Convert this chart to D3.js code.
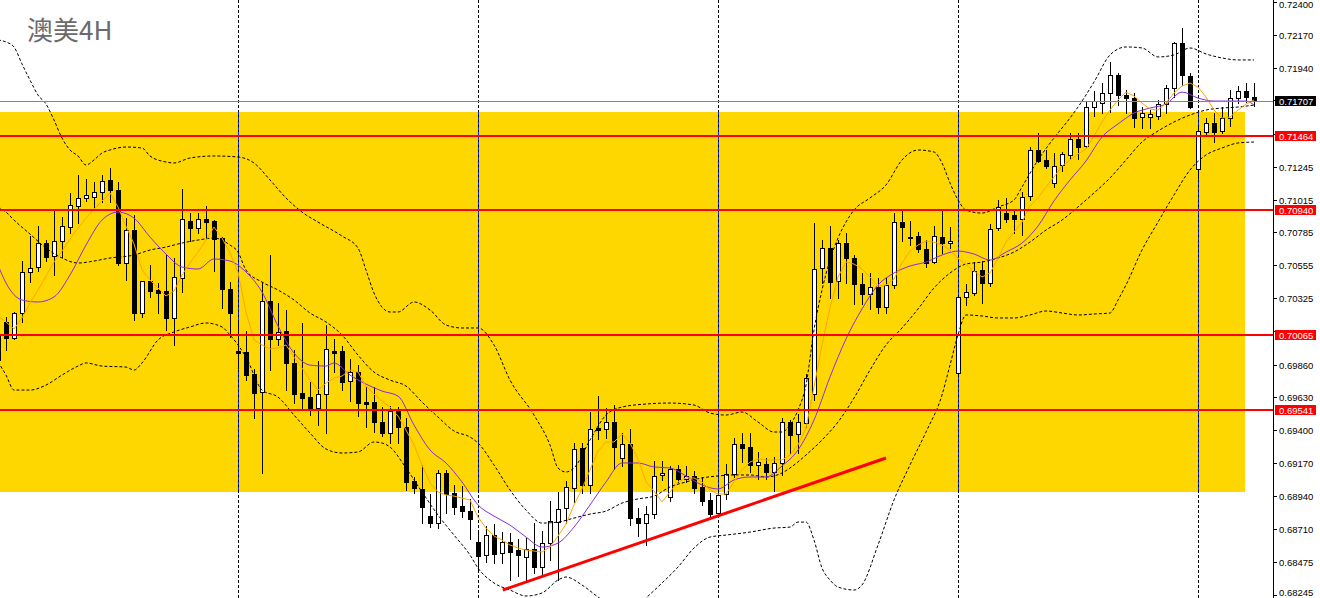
<!DOCTYPE html>
<html><head><meta charset="utf-8">
<script src="https://cdn.jsdelivr.net/npm/d3@7"></script>
<style>html,body{margin:0;padding:0;background:#fff;overflow:hidden}</style>
</head><body>
<svg id="c" width="1320" height="598"></svg>
<script>
// ---- candle data (AUD/USD 4H); first entry is the partly visible bar at index -1 ----
const firstIndex=-1;
const opens=[0.70067,0.70158,0.70046,0.70221,0.70508,0.70543,0.70711,0.70620,0.70725,0.70823,0.70971,0.71027,0.71034,0.71069,0.71153,0.71083,0.70571,0.70802,0.70221,0.70445,0.70382,0.70375,0.70186,0.70466,0.70865,0.70816,0.70879,0.70865,0.70746,0.70389,0.69955,0.69948,0.69793,0.69667,0.70305,0.70039,0.70095,0.69871,0.69660,0.69632,0.69555,0.69653,0.69955,0.69955,0.69744,0.69807,0.69597,0.69597,0.69457,0.69380,0.69534,0.69422,0.69044,0.68988,0.68798,0.68749,0.69100,0.68960,0.68869,0.68833,0.68616,0.68525,0.68665,0.68539,0.68616,0.68560,0.68511,0.68567,0.68441,0.68609,0.68756,0.68854,0.68995,0.69275,0.69016,0.69415,0.69408,0.69457,0.69205,0.69303,0.68784,0.68749,0.68812,0.69086,0.68932,0.69128,0.69058,0.69079,0.69002,0.68911,0.68819,0.68953,0.69093,0.69303,0.69282,0.69156,0.69163,0.69107,0.69170,0.69457,0.69373,0.69450,0.69653,0.70536,0.70676,0.70445,0.70711,0.70606,0.70424,0.70354,0.70403,0.70263,0.70417,0.70858,0.70753,0.70760,0.70669,0.70578,0.70753,0.70711,0.69800,0.70333,0.70361,0.70522,0.70431,0.70816,0.70921,0.70907,0.70879,0.71041,0.71363,0.71293,0.71132,0.71258,0.71328,0.71440,0.71391,0.71664,0.71692,0.71762,0.71888,0.71748,0.71727,0.71594,0.71594,0.71601,0.71685,0.71797,0.72113,0.71881,0.71230,0.71489,0.71552,0.71496,0.71587,0.71727,0.71776,0.71734];
const highs=[0.70158,0.70193,0.70228,0.70585,0.70760,0.70830,0.70732,0.70935,0.70893,0.71062,0.71188,0.71160,0.71139,0.71188,0.71237,0.71139,0.70886,0.70907,0.70445,0.70557,0.70431,0.70634,0.70606,0.71090,0.70921,0.70921,0.70971,0.70872,0.70753,0.70438,0.70158,0.70095,0.69828,0.70438,0.70627,0.70291,0.70242,0.69962,0.70151,0.69737,0.69885,0.70137,0.70039,0.69990,0.69899,0.69856,0.69702,0.69702,0.69562,0.69569,0.69562,0.69485,0.69072,0.69156,0.68953,0.69121,0.69121,0.69016,0.69009,0.68918,0.68679,0.68728,0.68742,0.68686,0.68679,0.68637,0.68644,0.68749,0.68693,0.68904,0.68967,0.69044,0.69310,0.69310,0.69527,0.69639,0.69555,0.69576,0.69380,0.69408,0.68854,0.68869,0.69184,0.69184,0.69149,0.69156,0.69149,0.69114,0.69072,0.68960,0.68960,0.69163,0.69345,0.69380,0.69380,0.69247,0.69205,0.69212,0.69485,0.69471,0.69513,0.69793,0.70851,0.70732,0.70830,0.70732,0.70781,0.70627,0.70501,0.70501,0.70466,0.70466,0.70921,0.70935,0.70865,0.70788,0.70732,0.70830,0.70942,0.70823,0.70347,0.70424,0.70578,0.70585,0.70844,0.71013,0.71027,0.70942,0.71069,0.71384,0.71482,0.71363,0.71342,0.71349,0.71482,0.71482,0.71699,0.71776,0.71832,0.71980,0.71902,0.71783,0.71762,0.71664,0.71643,0.71713,0.71818,0.72120,0.72218,0.71902,0.71524,0.71587,0.71622,0.71664,0.71783,0.71811,0.71832,0.71832];
const lows=[0.69856,0.69962,0.70039,0.70158,0.70438,0.70515,0.70585,0.70487,0.70613,0.70781,0.70851,0.71006,0.70956,0.70999,0.70999,0.70557,0.70452,0.70172,0.70193,0.70333,0.70221,0.70102,0.69997,0.70368,0.70725,0.70781,0.70739,0.70515,0.70256,0.70053,0.69835,0.69751,0.69485,0.69100,0.69821,0.69997,0.69681,0.69590,0.69548,0.69506,0.69436,0.69380,0.69807,0.69681,0.69604,0.69499,0.69422,0.69387,0.69359,0.69310,0.69310,0.68981,0.68960,0.68749,0.68721,0.68714,0.68819,0.68812,0.68791,0.68637,0.68427,0.68476,0.68469,0.68469,0.68350,0.68378,0.68350,0.68399,0.68385,0.68490,0.68350,0.68749,0.68897,0.68960,0.68960,0.69338,0.69345,0.69128,0.69149,0.68735,0.68658,0.68595,0.68784,0.69051,0.68904,0.69037,0.69037,0.68960,0.68876,0.68798,0.68791,0.68918,0.69072,0.69177,0.69107,0.69058,0.69058,0.68974,0.69086,0.69240,0.69240,0.69422,0.69611,0.70431,0.70326,0.70326,0.70431,0.70284,0.70284,0.70249,0.70221,0.70221,0.70396,0.70725,0.70697,0.70648,0.70543,0.70571,0.70641,0.70676,0.69793,0.70277,0.70347,0.70291,0.70410,0.70802,0.70858,0.70781,0.70767,0.71013,0.71279,0.71237,0.71104,0.71216,0.71300,0.71300,0.71384,0.71601,0.71622,0.71629,0.71678,0.71622,0.71524,0.71517,0.71517,0.71580,0.71622,0.71734,0.71818,0.71657,0.71167,0.71468,0.71419,0.71482,0.71531,0.71692,0.71699,0.71671];
const closes=[0.69892,0.70046,0.70221,0.70508,0.70536,0.70711,0.70613,0.70725,0.70830,0.70978,0.71027,0.71048,0.71069,0.71146,0.71083,0.70571,0.70802,0.70221,0.70445,0.70375,0.70361,0.70186,0.70473,0.70879,0.70816,0.70879,0.70858,0.70739,0.70389,0.70221,0.69941,0.69786,0.69660,0.70305,0.70039,0.70088,0.69871,0.69653,0.69625,0.69555,0.69653,0.69969,0.69941,0.69737,0.69807,0.69590,0.69583,0.69457,0.69380,0.69534,0.69422,0.69037,0.68995,0.68862,0.68749,0.69100,0.68953,0.68862,0.68833,0.68777,0.68518,0.68665,0.68532,0.68616,0.68546,0.68525,0.68567,0.68441,0.68609,0.68763,0.68847,0.69002,0.69268,0.69016,0.69408,0.69401,0.69457,0.69282,0.69303,0.68784,0.68749,0.68812,0.69079,0.69100,0.69128,0.69058,0.69079,0.68995,0.68904,0.68812,0.68946,0.69093,0.69303,0.69275,0.69156,0.69177,0.69107,0.69170,0.69457,0.69366,0.69457,0.69765,0.70529,0.70676,0.70438,0.70711,0.70606,0.70424,0.70354,0.70403,0.70263,0.70417,0.70858,0.70823,0.70746,0.70669,0.70571,0.70760,0.70711,0.70725,0.70333,0.70368,0.70515,0.70431,0.70809,0.70964,0.70879,0.70879,0.71034,0.71363,0.71286,0.71251,0.71251,0.71335,0.71440,0.71384,0.71664,0.71706,0.71762,0.71888,0.71748,0.71727,0.71587,0.71622,0.71615,0.71685,0.71797,0.72113,0.71888,0.71664,0.71496,0.71552,0.71489,0.71587,0.71727,0.71776,0.71734,0.71706];

// ---- indicators ----
const maFast=[0.70200,0.70158,0.70109,0.70186,0.70291,0.70382,0.70480,0.70578,0.70655,0.70739,0.70816,0.70886,0.70949,0.71006,0.71062,0.70964,0.70830,0.70704,0.70522,0.70452,0.70396,0.70340,0.70375,0.70487,0.70571,0.70648,0.70732,0.70823,0.70746,0.70641,0.70508,0.70228,0.70032,0.69997,0.69969,0.69976,0.69997,0.69912,0.69835,0.69751,0.69681,0.69730,0.69765,0.69779,0.69821,0.69807,0.69709,0.69653,0.69604,0.69562,0.69499,0.69401,0.69296,0.69156,0.69030,0.68967,0.68946,0.68938,0.68924,0.68911,0.68791,0.68714,0.68658,0.68630,0.68595,0.68574,0.68560,0.68553,0.68546,0.68581,0.68658,0.68742,0.68876,0.68988,0.69121,0.69254,0.69317,0.69317,0.69373,0.69310,0.69198,0.69037,0.68974,0.68897,0.68967,0.69037,0.69065,0.69065,0.69037,0.68981,0.68953,0.68953,0.69037,0.69121,0.69177,0.69198,0.69191,0.69191,0.69191,0.69226,0.69296,0.69415,0.69702,0.69997,0.70256,0.70473,0.70578,0.70564,0.70529,0.70473,0.70410,0.70417,0.70459,0.70571,0.70655,0.70697,0.70725,0.70718,0.70697,0.70662,0.70606,0.70557,0.70515,0.70473,0.70501,0.70606,0.70718,0.70788,0.70858,0.70971,0.71027,0.71104,0.71174,0.71251,0.71293,0.71335,0.71370,0.71461,0.71559,0.71643,0.71713,0.71769,0.71741,0.71692,0.71650,0.71643,0.71692,0.71762,0.71811,0.71832,0.71804,0.71734,0.71643,0.71587,0.71594,0.71643,0.71685,0.71713];
const maSlow=[[-1,0.70557],[0,0.70431],[2,0.70312],[4,0.70298],[6,0.70333],[8,0.70487],[10,0.70697],[12,0.70872],[14,0.70928],[16,0.70886],[18,0.70753],[20,0.70634],[22,0.70543],[24,0.70529],[26,0.70599],[28,0.70585],[30,0.70508],[32,0.70368],[34,0.70130],[36,0.69941],[38,0.69856],[40,0.69849],[41,0.69871],[43,0.69786],[45,0.69723],[47,0.69674],[49,0.69639],[51,0.69436],[53,0.69261],[55,0.69170],[57,0.69037],[59,0.68876],[61,0.68798],[63,0.68735],[65,0.68651],[67,0.68581],[69,0.68609],[71,0.68721],[73,0.68876],[75,0.69037],[77,0.69170],[79,0.69170],[81,0.69142],[83,0.69135],[85,0.69079],[87,0.69016],[89,0.68988],[91,0.69051],[93,0.69072],[95,0.69072],[97,0.69149],[99,0.69261],[101,0.69471],[103,0.69772],[105,0.70039],[107,0.70249],[109,0.70417],[111,0.70501],[113,0.70550],[115,0.70578],[117,0.70627],[119,0.70655],[121,0.70634],[123,0.70592],[125,0.70648],[127,0.70711],[129,0.70830],[131,0.71006],[133,0.71153],[135,0.71286],[137,0.71454],[139,0.71545],[141,0.71622],[143,0.71657],[145,0.71685],[147,0.71769],[149,0.71727],[151,0.71706],[153,0.71706],[155,0.71706],[156,0.71678]];
const bbUpper=[[-1,0.72134],[0,0.72120],[1,0.72085],[2,0.71966],[3,0.71853],[4,0.71748],[5,0.71685],[6,0.71573],[7,0.71447],[8,0.71363],[9,0.71321],[10,0.71258],[11,0.71293],[12,0.71342],[13,0.71363],[15,0.71384],[17,0.71377],[18,0.71321],[20,0.71279],[21,0.71272],[23,0.71307],[26,0.71321],[29,0.71314],[31,0.71272],[33,0.71153],[35,0.71027],[37,0.70928],[39,0.70858],[42,0.70760],[44,0.70676],[45,0.70522],[46,0.70361],[48,0.70228],[49,0.70228],[51,0.70298],[53,0.70242],[55,0.70137],[57,0.70116],[59,0.70116],[61,0.69997],[63,0.69751],[66,0.69506],[68,0.69296],[69,0.69135],[70,0.69107],[71,0.69135],[73,0.69331],[75,0.69506],[77,0.69562],[80,0.69583],[83,0.69590],[86,0.69576],[88,0.69520],[90,0.69506],[92,0.69527],[94,0.69457],[96,0.69387],[97,0.69387],[98,0.69436],[99,0.69541],[100,0.69716],[101,0.70102],[102,0.70382],[103,0.70592],[104,0.70746],[105,0.70858],[106,0.70942],[108,0.71027],[110,0.71118],[112,0.71293],[114,0.71363],[116,0.71349],[117,0.71272],[118,0.71132],[119,0.71013],[120,0.70942],[122,0.70921],[124,0.70964],[126,0.71013],[127,0.71104],[129,0.71293],[131,0.71447],[133,0.71587],[134,0.71664],[136,0.71839],[138,0.72029],[140,0.72085],[142,0.72078],[144,0.72015],[146,0.72029],[148,0.72078],[150,0.72036],[152,0.72008],[154,0.71994],[156,0.71994]];
const bbMiddle=[[-1,0.70964],[0,0.70928],[1,0.70872],[3,0.70774],[5,0.70676],[7,0.70606],[9,0.70571],[11,0.70585],[13,0.70606],[16,0.70627],[18,0.70662],[20,0.70683],[22,0.70711],[24,0.70732],[26,0.70746],[28,0.70697],[29,0.70648],[30,0.70522],[32,0.70438],[34,0.70382],[36,0.70312],[38,0.70221],[40,0.70158],[42,0.70067],[44,0.69926],[46,0.69807],[48,0.69751],[50,0.69709],[52,0.69597],[54,0.69492],[56,0.69394],[58,0.69352],[59,0.69310],[61,0.69156],[63,0.68981],[65,0.68840],[67,0.68749],[69,0.68756],[71,0.68784],[73,0.68812],[75,0.68833],[77,0.68889],[79,0.68918],[81,0.68938],[83,0.69002],[85,0.69037],[87,0.69065],[89,0.69079],[91,0.69086],[93,0.69086],[95,0.69072],[97,0.69100],[98,0.69135],[100,0.69226],[102,0.69331],[104,0.69457],[106,0.69625],[108,0.69821],[110,0.69997],[112,0.70116],[114,0.70249],[116,0.70396],[118,0.70501],[120,0.70564],[122,0.70578],[124,0.70606],[126,0.70648],[128,0.70718],[130,0.70802],[132,0.70872],[134,0.70964],[136,0.71062],[138,0.71167],[140,0.71293],[142,0.71419],[144,0.71496],[146,0.71559],[148,0.71608],[150,0.71643],[152,0.71657],[154,0.71664],[156,0.71678]];
const bbLower=[[-1,0.69877],[0,0.69786],[1,0.69681],[3,0.69681],[5,0.69716],[7,0.69786],[9,0.69849],[10,0.69871],[12,0.69849],[15,0.69842],[16,0.69821],[17,0.69871],[19,0.70032],[21,0.70088],[23,0.70123],[25,0.70151],[27,0.70123],[28,0.70067],[29,0.69997],[30,0.69912],[32,0.69681],[34,0.69632],[36,0.69506],[38,0.69380],[40,0.69268],[42,0.69240],[44,0.69247],[46,0.69317],[47,0.69310],[48,0.69282],[50,0.69135],[52,0.68967],[54,0.68805],[56,0.68665],[58,0.68525],[59,0.68434],[61,0.68329],[63,0.68280],[65,0.68238],[67,0.68259],[69,0.68350],[70,0.68371],[72,0.68315],[74,0.68231],[76,0.68154],[78,0.68126],[80,0.68224],[82,0.68329],[84,0.68441],[86,0.68574],[88,0.68651],[90,0.68665],[93,0.68686],[96,0.68714],[98,0.68721],[99,0.68756],[100,0.68756],[101,0.68630],[102,0.68434],[103,0.68350],[104,0.68301],[106,0.68280],[107,0.68315],[109,0.68595],[111,0.68911],[113,0.69156],[115,0.69387],[117,0.69646],[118,0.69856],[119,0.70067],[120,0.70207],[122,0.70200],[124,0.70186],[126,0.70186],[128,0.70207],[130,0.70235],[132,0.70221],[134,0.70207],[136,0.70214],[138,0.70221],[139,0.70312],[140,0.70417],[142,0.70662],[144,0.70858],[146,0.71048],[148,0.71223],[150,0.71328],[152,0.71377],[154,0.71412],[156,0.71419]];

// ---- levels, objects, axis ----
const levelLines=[0.71464,0.70940,0.70065,0.69541];
const bidPrice=0.71707;
const tickValues=[0.72400,0.72170,0.71940,0.71710,0.71475,0.71245,0.71015,0.70785,0.70555,0.70325,0.70095,0.69860,0.69630,0.69400,0.69170,0.68940,0.68710,0.68475,0.68245];
const weekStarts=[29,59,89,119,149];
const zoneX=[-3,154.9];
const zoneP=[0.71629,0.68967];
const trendI=[62.1,110];
const trendP=[0.68280,0.69205];
const titleText="澳美4H";

const W=1320,H=598,plotR=1273;
const svg=d3.select("#c");
const x=d3.scaleLinear().domain([0,156]).range([6,1254]);
const y=d3.scaleLinear().domain([0.68245,0.72400]).range([595,2]);
const fmt=d3.format(".5f");

svg.append("rect").attr("width",W).attr("height",H).attr("fill","#fff");
svg.append("defs").append("clipPath").attr("id","pc").append("rect").attr("x",0).attr("y",0).attr("width",plotR).attr("height",H);
const g=svg.append("g").attr("clip-path","url(#pc)");

// yellow zone
const zx0=x(zoneX[0]),zx1=Math.round(x(zoneX[1]));
const zy0=Math.round(y(zoneP[0])),zy1=Math.round(y(zoneP[1]));
g.append("rect").attr("x",zx0).attr("y",zy0).attr("width",zx1-zx0).attr("height",zy1-zy0).attr("fill","#FFD700");

// week separators
weekStarts.forEach(i=>{
  const xx=Math.round(x(i))+0.5;
  g.append("line").attr("x1",xx).attr("x2",xx).attr("y1",0).attr("y2",H)
   .attr("stroke","#000").attr("stroke-dasharray","3,2").attr("shape-rendering","crispEdges");
  if(xx<zx1) g.append("line").attr("x1",xx).attr("x2",xx).attr("y1",zy0).attr("y2",zy1)
   .attr("stroke","#0028FF").attr("stroke-dasharray","3,2").attr("shape-rendering","crispEdges");
});

// candles
const idx=d3.range(opens.length);
const ci=p=>p+firstIndex;
const cg=g.append("g").attr("shape-rendering","crispEdges");
idx.forEach(p=>{
  const cx=Math.round(x(ci(p)));
  const yh=Math.round(y(highs[p])),yl=Math.round(y(lows[p]));
  cg.append("line").attr("x1",cx+0.5).attr("x2",cx+0.5).attr("y1",yh).attr("y2",yl+1).attr("stroke","#000");
});
idx.forEach(p=>{
  const cx=Math.round(x(ci(p)));
  const yo=Math.round(y(opens[p])),yc=Math.round(y(closes[p]));
  const t=Math.min(yo,yc),b=Math.max(yo,yc);
  if(closes[p]>opens[p]){
    cg.append("rect").attr("x",cx-1.5).attr("y",t+0.5).attr("width",4).attr("height",Math.max(b-t,1))
      .attr("fill","#fff").attr("stroke","#000");
  } else {
    cg.append("rect").attr("x",cx-2).attr("y",t).attr("width",5).attr("height",Math.max(b-t+1,1)).attr("fill","#000");
  }
});

// bollinger bands
const lineXY=d3.line().x(d=>x(d[0])).y(d=>y(d[1])).curve(d3.curveMonotoneX);
[bbUpper,bbMiddle,bbLower].forEach(arr=>{
  g.append("path").attr("d",lineXY(arr)).attr("fill","none").attr("stroke","#000")
   .attr("stroke-width",1).attr("stroke-dasharray","3,2");
});
// moving averages
g.append("path").attr("d",lineXY(maSlow)).attr("fill","none").attr("stroke","#8A2BE2").attr("stroke-width",1);
g.append("path").attr("d",d3.line().x((d,p)=>x(ci(p))).y(d=>y(d))(maFast)).attr("fill","none").attr("stroke","#FFA500").attr("stroke-width",1);

// horizontal lines
levelLines.forEach(p=>{
  const yy=Math.round(y(p));
  g.append("rect").attr("x",0).attr("y",yy-1).attr("width",plotR).attr("height",2).attr("fill","#FF0000");
});
const by=Math.round(y(bidPrice))+0.5;
g.append("line").attr("x1",0).attr("x2",plotR).attr("y1",by).attr("y2",by).attr("stroke","#778899").attr("shape-rendering","crispEdges");

// trend line
g.append("line").attr("x1",x(trendI[0])).attr("y1",y(trendP[0])).attr("x2",x(trendI[1])).attr("y2",y(trendP[1]))
  .attr("stroke","#FF0000").attr("stroke-width",3);

// title
svg.append("text").attr("x",27).attr("y",40).text(titleText)
  .attr("font-family","'Noto Sans CJK SC','Noto Sans',sans-serif").attr("font-size",26).attr("fill","#6A6A6A");

// price axis
const ax=svg.append("g");
ax.append("rect").attr("x",plotR).attr("y",0).attr("width",W-plotR).attr("height",H).attr("fill","#fff");
ax.append("line").attr("x1",plotR+0.5).attr("x2",plotR+0.5).attr("y1",0).attr("y2",H).attr("stroke","#000").attr("shape-rendering","crispEdges");
const font="'Liberation Sans',Arial,sans-serif";
const tags=levelLines.concat([bidPrice]);
tickValues.forEach(v=>{
  const yy=Math.round(y(v))+0.5;
  ax.append("line").attr("x1",plotR).attr("x2",plotR+4).attr("y1",yy).attr("y2",yy).attr("stroke","#000").attr("shape-rendering","crispEdges");
  const hidden=tags.some(t=>Math.abs(y(t)-y(v))<6);
  const ty=Math.min(Math.max(yy+3.3,8),596);
  if(!hidden) ax.append("text").attr("x",1279).attr("y",ty).text(fmt(v)).attr("font-family",font).attr("font-size",9.5).attr("fill","#000");
});
function tag(p,col){
  const yy=Math.round(y(p));
  ax.append("rect").attr("x",1275).attr("y",yy-5).attr("width",41).attr("height",10).attr("fill",col);
  ax.append("text").attr("x",1279).attr("y",yy+3.5).text(fmt(p)).attr("font-family",font).attr("font-size",9.5).attr("fill","#fff");
}
levelLines.forEach(p=>tag(p,"#FF0000"));
tag(bidPrice,"#000");
</script>
</body></html>
